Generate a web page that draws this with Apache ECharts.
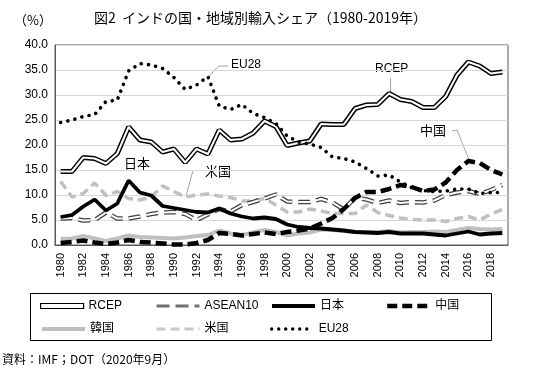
<!DOCTYPE html>
<html><head><meta charset="utf-8">
<script src="https://cdn.jsdelivr.net/npm/echarts@6/dist/echarts.min.js"></script>
<style>html,body{margin:0;padding:0;background:#fff}#c{width:534px;height:382px}</style>
</head><body><div id="c"></div>
<script>
const years = ['1980','1981','1982','1983','1984','1985','1986','1987','1988','1989',
  '1990','1991','1992','1993','1994','1995','1996','1997','1998','1999',
  '2000','2001','2002','2003','2004','2005','2006','2007','2008','2009',
  '2010','2011','2012','2013','2014','2015','2016','2017','2018','2019'];
const rcep = [14.7,14.7,17.5,17.3,16.3,18.3,23.6,21.0,20.6,18.6, 19.2,16.5,19.2,18.2,23.0,21.0,21.2,22.4,24.8,23.7, 19.9,20.4,20.8,24.2,24.1,24.1,27.3,28.0,28.1,30.3, 29.1,28.7,27.5,27.5,29.7,34.0,36.6,35.8,34.3,34.6];
const asean = [5.3,5.4,4.9,5.0,6.5,5.3,5.3,5.7,6.2,6.5, 6.6,6.2,5.0,6.1,7.2,6.7,8.0,8.6,9.3,10.1, 8.7,8.6,8.6,9.2,8.5,7.1,9.5,9.1,8.4,8.9, 8.4,8.6,8.5,8.9,10.0,10.5,10.8,10.2,11.0,12.0];
const japan = [5.6,6.0,7.7,9.1,6.9,8.3,12.9,10.5,9.9,7.8, 7.4,7.0,6.6,6.5,7.3,6.3,5.7,5.3,5.5,5.2, 4.1,3.6,3.4,3.3,3.1,2.9,2.6,2.5,2.4,2.6, 2.3,2.3,2.3,2.1,1.9,2.3,2.7,2.1,2.3,2.4];
const china = [0.4,0.6,0.9,0.5,0.2,0.5,1.0,0.6,0.5,0.3, 0.1,0.1,0.4,1.0,2.4,2.2,1.9,2.2,2.5,2.2, 2.6,2.9,3.3,4.3,5.4,7.2,9.4,10.6,10.6,11.2, 12.0,11.6,10.8,11.1,12.5,15.0,16.8,16.4,15.0,14.1];
const korea = [1.2,1.3,1.8,1.3,0.8,1.3,1.9,1.6,1.5,1.4, 1.3,1.5,1.8,2.0,2.9,2.3,2.0,2.5,3.0,2.6, 1.9,2.3,2.5,3.1,3.0,2.8,2.6,2.6,2.6,2.8, 2.5,2.6,2.6,2.7,2.6,3.0,3.4,3.2,3.1,3.2];
const usa = [12.7,9.6,10.3,12.4,9.9,10.7,9.3,9.0,9.6,11.8, 10.7,9.6,10.0,10.2,9.8,9.5,8.8,8.8,9.3,8.0, 6.6,6.6,7.2,6.8,6.3,6.3,6.3,8.0,6.5,5.9, 5.4,5.1,5.0,5.0,4.7,5.3,5.7,5.0,6.2,7.1];
const eu28 = [24.5,25.0,25.7,26.1,28.7,29.0,34.8,36.3,36.0,35.3, 33.5,31.1,32.0,33.7,27.8,27.1,28.1,26.3,25.5,24.3, 21.8,20.6,20.2,19.5,17.6,17.3,16.6,15.3,13.8,14.0, 12.6,11.5,10.9,10.7,10.8,11.2,11.2,10.3,10.5,10.5];
const yTicks = [0,5,10,15,20,25,30,35,40];

const FONT = '"Liberation Sans", "Noto Sans CJK JP", sans-serif';
const JFONT = '"Noto Sans CJK JP", "Liberation Sans", sans-serif';

const styles = {
  korea: {color:'#bfbfbf', width:4},
  usa: {color:'#c0c0c0', width:3.5, type:[9,5]},
  asean: {color:'#404040', width:4.5, type:[12,6]},
  aseanIn: {color:'#ffffff', width:2, type:[12,6]},
  japan: {color:'#000', width:3.8},
  rcep: {color:'#000', width:5},
  rcepIn: {color:'#ffffff', width:2},
  china: {color:'#000', width:4.5, type:[11,5]},
  eu: {color:'#000', width:3.6, type:[0.01,7.3], cap:'round'}
};

function ser(name, data, ls, z) {
  return { name: name, type: 'line', data: data, symbol: 'none', showSymbol: false,
    lineStyle: ls, itemStyle: {color: ls.color}, z: z, silent: true, animation: false };
}

const series = [
  ser('韓国', korea, styles.korea, 2),
  ser('米国', usa, styles.usa, 3),
  ser('ASEAN10', asean, styles.asean, 4),
  ser('ASEAN10_in', asean, styles.aseanIn, 5),
  ser('日本', japan, styles.japan, 6),
  ser('RCEP', rcep, styles.rcep, 7),
  ser('RCEP_in', rcep, styles.rcepIn, 8),
  ser('中国', china, styles.china, 9),
  ser('EU28', eu28, styles.eu, 10)
];

function lg(item, left, top, w) {
  return { data: [item], left: left, top: top, orient: 'horizontal', padding: 0,
    itemWidth: w || 43, itemHeight: 12, selectedMode: false,
    itemStyle: {opacity: 0},
    textStyle: { fontFamily: FONT, fontSize: 12, color: '#000' } };
}

const legends = [
  lg({name:'RCEP', icon:'rect', itemStyle:{color:'#fff', borderColor:'#000', borderWidth:1.2, opacity:1}}, 40, 300),
  lg({name:'ASEAN10', lineStyle:{color:'#707070', width:3, type:[13,6]}}, 155, 300),
  lg({name:'日本', lineStyle:{color:'#000', width:4, type:'solid'}}, 270, 300),
  lg({name:'中国', lineStyle:{color:'#000', width:4.5, type:[10,5]}}, 385, 300),
  lg({name:'韓国', lineStyle:{color:'#c0c0c0', width:4, type:'solid'}}, 40, 323),
  lg({name:'米国', lineStyle:{color:'#c8c8c8', width:3, type:[9,5]}}, 155, 323),
  lg({name:'EU28', lineStyle:{color:'#000', width:3.4, type:[0.01,7], cap:'round'}}, 270, 323, 42)
];
legends[0].itemHeight = 5;

const leader = {color:'#a6a6a6', width:1};
const graphic = [
  {type:'rect', shape:{x:30.5, y:293.5, width:461, height:47}, style:{fill:'none', stroke:'#000', lineWidth:1}, silent:true},
  {type:'polyline', shape:{points:[[209,76],[219,66],[228,66]]}, style:{stroke:leader.color, lineWidth:1, fill:null}, silent:true},
  {type:'text', left:231, top:59, style:{text:'EU28', font:'12px ' + FONT, fill:'#000'}},
  {type:'polyline', shape:{points:[[390.5,78],[390.5,93]]}, style:{stroke:leader.color, lineWidth:1, fill:null}, silent:true},
  {type:'text', left:375, top:63, style:{text:'RCEP', font:'12px ' + FONT, fill:'#000'}},
  {type:'polyline', shape:{points:[[452,131],[457,130],[469,160]]}, style:{stroke:leader.color, lineWidth:1, fill:null}, silent:true},
  {type:'text', left:420, top:124, style:{text:'中国', font:'13px ' + JFONT, fill:'#000'}},
  {type:'text', left:124, top:157, style:{text:'日本', font:'13px ' + JFONT, fill:'#000'}},
  {type:'polyline', shape:{points:[[201,170.5],[193,170.5],[186,196]]}, style:{stroke:leader.color, lineWidth:1, fill:null}, silent:true},
  {type:'text', left:205, top:165, style:{text:'米国', font:'13px ' + JFONT, fill:'#000'}}
];

const option = {
  animation: false,
  backgroundColor: '#fff',
  title: [
    {text:'図2  インドの国・地域別輸入シェア（1980-2019年）', left:94, top:11, padding:0,
      textStyle:{fontFamily:JFONT, fontSize:14, fontWeight:'normal', color:'#000'}},
    {text:'（%）', left:14, top:14, padding:0,
      textStyle:{fontFamily:JFONT, fontSize:13, fontWeight:'normal', color:'#000'}},
    {text:'資料：IMF；DOT（2020年9月）', left:2, top:353, padding:0,
      textStyle:{fontFamily:JFONT, fontSize:12, fontWeight:'normal', color:'#000'}}
  ],
  grid: {left:55, top:45, right:26, bottom:137, show:true, borderColor:'#595959', borderWidth:1},
  xAxis: {
    type:'category', data: years, boundaryGap: true,
    axisLine:{show:true, lineStyle:{color:'#595959', width:1}},
    axisTick:{show:false},
    axisLabel:{rotate:90, interval:1, fontFamily:FONT, fontSize:11, color:'#000', margin:8},
    splitLine:{show:false}
  },
  yAxis: {
    type:'value', min: yTicks[0], max: yTicks[yTicks.length-1], interval: 5,
    axisLine:{show:true, lineStyle:{color:'#595959', width:1}},
    axisTick:{show:false},
    axisLabel:{formatter: v => v.toFixed(1), fontFamily:FONT, fontSize:12, color:'#000', margin:7},
    splitLine:{show:true, lineStyle:{color:'#d9d9d9', width:1}}
  },
  legend: legends,
  series: series,
  graphic: graphic
};
const chart = echarts.init(document.getElementById('c'));
chart.setOption(option);
</script></body></html>
